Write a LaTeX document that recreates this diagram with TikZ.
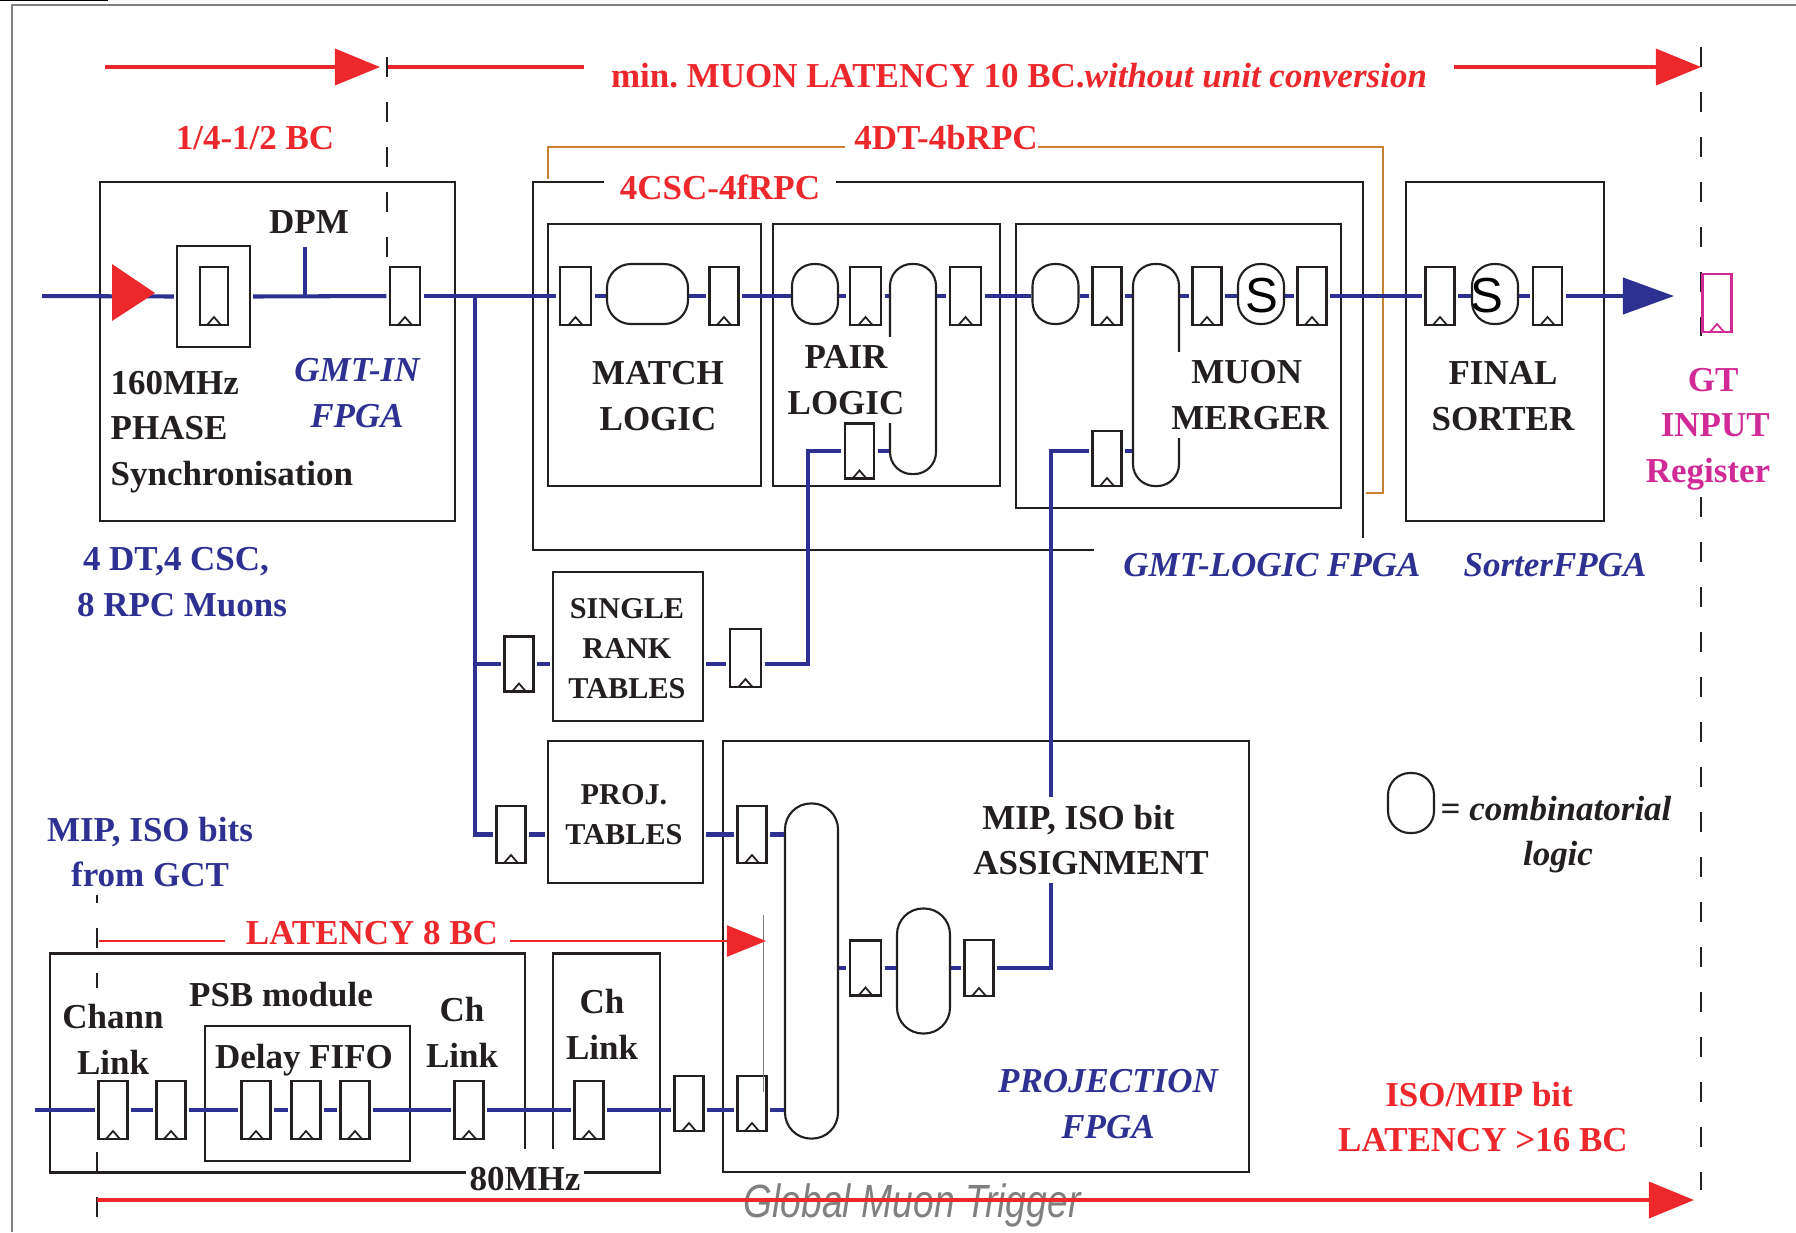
\documentclass[tikz,border=0pt]{standalone}
\usepackage{fontspec}
\setmainfont{Liberation Serif}
\newfontfamily\gmtsans{Liberation Sans}
\usepackage{xcolor}
\usetikzlibrary{arrows.meta, positioning}
\definecolor{gmtred}{HTML}{ED282D}
\definecolor{gmtblue}{HTML}{2E3192}
\definecolor{gmtorange}{HTML}{C9812F}
\definecolor{gmtmag}{HTML}{CF2A96}
\definecolor{gmtblack}{HTML}{231F20}
\frenchspacing

\begin{document}
\begin{tikzpicture}[x=0.01cm, y=-0.01cm,
    lbl/.style={font=\fontsize{9.95}{13}\selectfont\bfseries, text=gmtblack, inner sep=0, align=center},
    redlbl/.style={lbl, text=gmtred},
    bluelbl/.style={lbl, text=gmtblue, font=\fontsize{9.95}{13}\selectfont\bfseries\itshape},
    maglbl/.style={lbl, text=gmtmag},
    tbllbl/.style={font=\fontsize{8.6}{11.4}\selectfont\bfseries, text=gmtblack, align=center, inner sep=0},
    gmtline/.style={draw=gmtblack, line width=0.6pt},
    gmtbox/.style={gmtline, rectangle, inner sep=0, outer sep=0.03cm},
    ffclk/.style={gmtblack},
    ff/.style={gmtline, fill=white, rectangle, inner sep=0, outer sep=0.035cm,
      minimum width=0.29cm, minimum height=0.58cm,
      path picture={\draw[ffclk, line width=0.5pt] (path picture bounding box.south) ++(-0.07cm,0) -- ++(0.07cm,0.08cm) -- ++(0.07cm,-0.08cm);}},
    regbox/.style={ff, draw=gmtmag, ffclk/.style={gmtmag}},
    comb/.style={gmtline, fill=white, rectangle, rounded corners=0.22cm, inner sep=0,
      minimum width=0.46cm, minimum height=0.6cm},
    sel/.style={font=\gmtsans\fontsize{14}{14}\selectfont, text=black, inner sep=0},
    bus/.style={draw=gmtblue, line width=1.15pt},
    dashv/.style={gmtline, line width=0.4pt, dash pattern=on 0.2cm off 0.25cm},
    redarrow/.style={draw=gmtred, line width=1pt},
    redthin/.style={draw=gmtred, line width=0.6pt},
    redtip/.style={-{Triangle[length=0.45cm, width=0.36cm]}},
  ]
  \useasboundingbox (0,0) rectangle (1796,1232);

  \draw[gray, line width=0.4pt] (1796,5) -- (12,5) -- (12,1232);
  \draw[black, line width=0.5pt] (0,0.5) -- (108,0.5);

  \coordinate (tl) at (105,67);
  \coordinate (tm) at (380,67);
  \coordinate (tn) at (387,67);
  \coordinate (tr) at (1701,67);
  \node[redlbl, inner xsep=0.26cm] (title) at (1019,76) {min. MUON LATENCY 10 BC.\textit{without unit conversion}};
  \draw[redarrow, redtip, gmtred] (tl) -- (tm);
  \draw[redarrow] (tn) -- (title.west |- tn);
  \draw[redarrow, redtip, gmtred] (title.east |- tr) -- (tr);
  \draw[dashv] (387,57) -- (387,257);
  \draw[dashv] (1701,47) -- (1701,336);
  \draw[dashv] (1701,497) -- (1701,1190);
  \draw[dashv] (97,928) -- (97,988);
  \draw[dashv] (97,895) -- (97,903);
  \draw[dashv] (97,1152) -- (97,1217);

  \node[redlbl] (quarter) at (255,138) {1/4-1/2 BC};
  \node[redlbl] (fourdt) at (946,138) {4DT-4bRPC};
  \node[redlbl, inner xsep=0.15cm] (fourcsc) at (720,187) {4CSC-4fRPC};
  \coordinate (oa) at (548,179);
  \coordinate (ob) at (1383,147);
  \coordinate (oc) at (1366,493);
  \draw[gmtorange, line width=0.7pt, shorten >=0.09cm] (oa) |- (fourdt.west |- ob);
  \draw[gmtorange, line width=0.7pt] (fourdt.east |- ob) -- (ob) |- (oc);

  \draw[gmtline] (1094,550) -- (533,550) -- (533,182) -- (fourcsc.west |- 533,182);
  \draw[gmtline] (fourcsc.east |- 533,182) -- (1363,182) -- (1363,538);

  \node[gmtbox, minimum width=3.54cm, minimum height=3.39cm] (dpmbox) at (277.5,351.5) {};
  \node[gmtbox, minimum width=2.13cm, minimum height=2.62cm] (matchbox) at (654.5,355) {};
  \node[gmtbox, minimum width=2.27cm, minimum height=2.62cm] (pairbox) at (886.5,355) {};
  \node[gmtbox, minimum width=3.25cm, minimum height=2.84cm] (mergerbox) at (1178.5,366) {};
  \node[gmtbox, minimum width=1.98cm, minimum height=3.39cm] (sorterbox) at (1505,351.5) {};
  \node[gmtbox, minimum width=1.5cm, minimum height=1.49cm] (rankbox) at (628,646.5) {};
  \node[gmtbox, minimum width=1.55cm, minimum height=1.42cm] (projbox) at (625.5,812) {};
  \node[gmtbox, minimum width=5.25cm, minimum height=4.31cm] (projfpga) at (986,956.5) {};
  \node[gmtbox, minimum width=2.05cm, minimum height=1.35cm] (delaybox) at (307.5,1093.5) {};
  \node[gmtbox, minimum width=0.73cm, minimum height=1.01cm] (dlybox) at (213.5,296.5) {};

  \node[lbl, fill=white, inner xsep=0.03cm] (mhz) at (525,1179) {80MHz};
  \draw[gmtline] (525,1149) -- (525,953.5) -- (50,953.5) -- (50,1172.5) -- (mhz.west |- 50,1172.5);
  \draw[gmtline] (mhz.east |- 50,1172.5) -- (660,1172.5) -- (660,953.5) -- (553,953.5) -- (553,1149);

  \node[comb, minimum width=0.81cm, rounded corners=0.24cm] (cm) at (647.5,294) {};
  \node[comb] (cp1) at (815,294) {};
  \node[comb, minimum height=2.1cm] (cp2) at (913,369) {};
  \node[comb] (cg1) at (1055.5,294) {};
  \node[comb, minimum height=2.22cm] (cg2) at (1156,375) {};
  \node[comb] (sg) at (1261,294) {};
  \node[comb] (ss) at (1495,294) {};
  \node[comb] (clegend) at (1411,803) {};
  \node[comb, minimum width=0.53cm, minimum height=3.35cm, rounded corners=0.26cm] (cj) at (811.5,971) {};
  \node[comb, minimum width=0.53cm, minimum height=1.25cm, rounded corners=0.26cm] (ck) at (923.5,971) {};

  \node[lbl, fill=white, inner ysep=0.08cm] (pair) at (846,380) {PAIR\\LOGIC};
  \node[lbl, fill=white, inner ysep=0.08cm, align=left] (merger) at (1250,395) {\hspace*{0.2cm}MUON\\MERGER};

  \node[ff, minimum width=0.28cm] (fdly) at (214,296) {};
  \node[ff, minimum width=0.3cm] (fin) at (405,296) {};
  \node[ff, minimum width=0.31cm] (fm1) at (575.5,296) {};
  \node[ff] (fm2) at (724,296) {};
  \node[ff, minimum width=0.31cm] (fp1) at (865.5,296) {};
  \node[ff, minimum width=0.31cm] (fp2) at (965.5,296) {};
  \node[ff, minimum height=0.55cm] (fpl) at (859.5,451) {};
  \node[ff] (fg1) at (1107,296) {};
  \node[ff] (fg2) at (1207,296) {};
  \node[ff] (fg3) at (1312,296) {};
  \node[ff, minimum height=0.55cm] (fgl) at (1107,458.5) {};
  \node[ff] (fs1) at (1440,296) {};
  \node[ff] (fs2) at (1547.5,296) {};
  \node[regbox] (freg) at (1717,303) {};
  \node[ff, minimum height=0.55cm] (fr1) at (519,664) {};
  \node[ff, minimum width=0.31cm] (fr2) at (745.5,658) {};
  \node[ff, minimum height=0.57cm] (fpt) at (511,834.5) {};
  \node[ff, minimum height=0.57cm] (fpr) at (752,834.5) {};
  \node[ff, minimum height=0.55cm] (fbot) at (752,1103.5) {};
  \node[ff, minimum height=0.55cm] (fbt2) at (689,1103.5) {};
  \node[ff, minimum width=0.31cm, minimum height=0.55cm] (fa) at (865.5,968) {};
  \node[ff, minimum height=0.56cm] (fb) at (979,968) {};
  \node[ff] (fc1) at (113,1110) {};
  \node[ff] (fc2) at (171,1110) {};
  \node[ff] (fd1) at (256,1110) {};
  \node[ff] (fd2) at (306,1110) {};
  \node[ff] (fd3) at (355,1110) {};
  \node[ff] (fe) at (469,1110) {};
  \node[ff] (fch) at (589,1110) {};

  \coordinate (in) at (42,296);
  \coordinate (dpm) at (305,247);
  \coordinate (br) at (475,296);
  \coordinate (pv) at (808,664);
  \coordinate (vb) at (1051,968);
  \coordinate (vt) at (1051,451);
  \coordinate (bin) at (35,1110);
  \coordinate (otip) at (1674,296);

  \draw[bus] (in) -- (dlybox.west);
  \draw[bus] (dlybox.east) -- (fin.west);
  \draw[bus] (dpm) -- (dpm |- fin.west);
  \draw[bus] (fin.east) -- (fm1.west);
  \draw[bus] (fm1.east) -- (cm.west |- fm1.east);
  \draw[bus] (cm.east |- fm2.west) -- (fm2.west);
  \draw[bus] (fm2.east) -- (cp1.west |- fm2.east);
  \draw[bus] (cp1.east |- fp1.west) -- (fp1.west);
  \draw[bus] (fp1.east) -- (cp2.west |- fp1.east);
  \draw[bus] (cp2.east |- fp2.west) -- (fp2.west);
  \draw[bus] (fp2.east) -- (cg1.west |- fp2.east);
  \draw[bus] (cg1.east |- fg1.west) -- (fg1.west);
  \draw[bus] (fg1.east) -- (cg2.west |- fg1.east);
  \draw[bus] (cg2.east |- fg2.west) -- (fg2.west);
  \draw[bus] (fg2.east) -- (sg.west |- fg2.east);
  \draw[bus] (sg.east |- fg3.west) -- (fg3.west);
  \draw[bus] (fg3.east) -- (fs1.west);
  \draw[bus] (fs1.east) -- (ss.west |- fs1.east);
  \draw[bus] (ss.east |- fs2.west) -- (fs2.west);
  \draw[bus, -{Triangle[length=0.51cm, width=0.36cm]}] (fs2.east) -- (otip);
  \draw[bus] (br) |- (fpt.west);
  \draw[bus] (br |- fr1.west) -- (fr1.west);
  \draw[bus] (fr1.east) -- (rankbox.west |- fr1.east);
  \draw[bus] (rankbox.east |- pv) -- (fr2.west |- pv);
  \draw[bus] (fr2.east |- pv) -- (pv) |- (fpl.west);
  \draw[bus] (fpl.east) -- (cp2.west |- fpl.east);
  \draw[bus] (fpt.east) -- (projbox.west |- fpt.east);
  \draw[bus] (projbox.east |- fpr.west) -- (fpr.west);
  \draw[bus] (fpr.east) -- (cj.west |- fpr.east);
  \draw[bus] (cj.east |- fa.west) -- (fa.west);
  \draw[bus] (fa.east) -- (ck.west |- fa.east);
  \draw[bus] (ck.east |- fb.west) -- (fb.west);
  \draw[bus] (fb.east) -- (vb) -- (vt) -- (fgl.west |- vt);
  \draw[bus] (fgl.east |- vt) -- (cg2.west |- vt);
  \draw[bus] (bin) -- (fc1.west);
  \draw[bus] (fc1.east) -- (fc2.west);
  \draw[bus] (fc2.east) -- (fd1.west);
  \draw[bus] (fd1.east) -- (fd2.west);
  \draw[bus] (fd2.east) -- (fd3.west);
  \draw[bus] (fd3.east) -- (fe.west);
  \draw[bus] (fe.east) -- (fch.west);
  \draw[bus] (fch.east) -- (fbt2.west |- fch.east);
  \draw[bus] (fbt2.east |- fch.east) -- (fbot.west |- fch.east);
  \draw[bus] (fbot.east |- fch.east) -- (cj.west |- fch.east);

  \fill[gmtred] (112,264) -- (155,293) -- (112,321) -- cycle;

  \node[sel] (sgs) at (1262,296) {S};
  \node[sel] (sss) at (1487,296) {S};

  \node[lbl] (dpmlbl) at (309,222.5) {DPM};
  \node[lbl, anchor=west, align=left] (phase) at (110,432) {160MHz\\PHASE\\Synchronisation};
  \node[bluelbl] (gmtin) at (357,393) {GMT-IN\\FPGA};
  \node[lbl, text=gmtblue, align=left] (muons) at (182,582) {\hspace*{0.06cm}4 DT,4 CSC,\\8 RPC Muons};
  \node[lbl] (match) at (658,396) {MATCH\\LOGIC};
  \node[lbl] (sorter) at (1503,396) {FINAL\\SORTER};
  \node[bluelbl] (gmtlogic) at (1272,565) {GMT-LOGIC FPGA};
  \node[bluelbl] (sorterfpga) at (1555,565) {SorterFPGA};
  \node[maglbl, align=left] (gtinput) at (1708,429) {\hspace*{0.42cm}GT\\\hspace*{0.15cm}INPUT\\Register};
  \node[tbllbl] (ranklbl) at (627,649) {SINGLE\\RANK\\TABLES};
  \node[tbllbl] (projlbl) at (624,815) {PROJ.\\TABLES};
  \node[lbl, text=gmtblue] (mipiso) at (150,852) {MIP, ISO bits\\from GCT};
  \node[lbl, fill=white, inner ysep=0.08cm, align=left] (assign) at (1091,840) {\hspace*{0.09cm}MIP, ISO bit\\ASSIGNMENT};
  \node[bluelbl] (projfpgalbl) at (1108,1104) {PROJECTION\\FPGA};
  \node[lbl] (legend) at (1556,809) {= \textit{combinatorial}};
  \node[lbl] (legend2) at (1558,857) {\textit{logic}};
  \node[redlbl, align=left] (isomip) at (1483,1117) {\hspace*{0.47cm}ISO/MIP bit\\LATENCY >16 BC};
  \node[lbl] (chann) at (113,1039) {Chann\\Link};
  \node[lbl] (psb) at (281,995) {PSB module};
  \node[lbl] (delay) at (304,1060) {Delay FIFO};
  \node[lbl] (chone) at (462,1032) {Ch\\Link};
  \node[lbl] (chtwo) at (602,1024) {Ch\\Link};

  \draw[gray, line width=0.25pt] (763,915) -- (763,1092);
  \node[redlbl, inner xsep=0.11cm] (lat) at (372,933) {LATENCY 8 BC};
  \coordinate (la) at (99,941);
  \coordinate (lb) at (766,941);
  \draw[redthin, shorten >=0.09cm] (la) -- (lat.west |- la);
  \draw[redthin, -{Triangle[length=0.39cm, width=0.31cm]}, gmtred] (lat.east |- lb) -- (lb);

  \node[font=\gmtsans\itshape\fontsize{10.6}{12}\selectfont, text=gray, inner sep=0] (mark) at (912,1205) {\scalebox{1}[1.25]{Global Muon Trigger}};
  \coordinate (ba) at (97,1200);
  \coordinate (bb) at (1694,1200);
  \draw[redarrow, redtip, gmtred] (ba) -- (bb);
\end{tikzpicture}
\end{document}
